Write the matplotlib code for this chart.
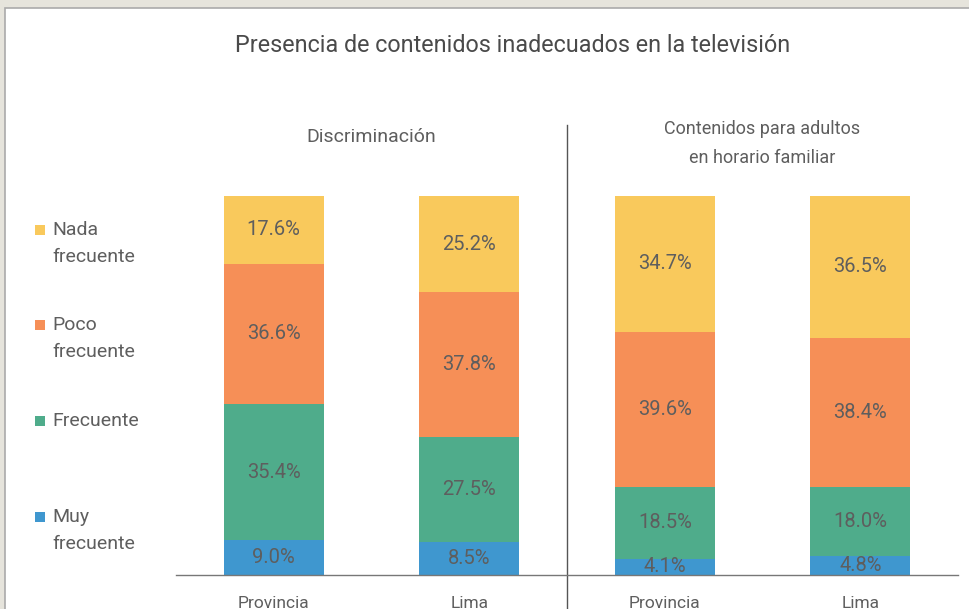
import numpy as np
import matplotlib.pyplot as plt
from matplotlib.patches import Rectangle

# Data (percentages as printed on the chart)
groups = ["Discriminación", "Contenidos para adultos\nen horario familiar"]
categories = ["Provincia", "Lima", "Provincia", "Lima"]
series = ["Muy\nfrecuente", "Frecuente", "Poco\nfrecuente", "Nada\nfrecuente"]
muy_frecuente = [9.0, 8.5, 4.1, 4.8]
frecuente = [35.4, 27.5, 18.5, 18.0]
poco_frecuente = [36.6, 37.8, 39.6, 38.4]
nada_frecuente = [17.6, 25.2, 34.7, 36.5]
colors = ["#3f97cf", "#4fac8b", "#f68f57", "#f9c95c"]

values = np.array([muy_frecuente, frecuente, poco_frecuente, nada_frecuente])
shares = values / values.sum(axis=0) * 100  # bars are drawn at full height

plt.rcParams['font.family'] = ['Roboto', 'DejaVu Sans']
txt = '#5e5e5e'

fig = plt.figure(figsize=(9.69, 6.09), dpi=100, facecolor='#e6e4dc')
# white card with grey border, behind everything
fig.patches.append(Rectangle((5 / 969, -0.01), 1.0, (609 - 8) / 609 + 0.01,
                             transform=fig.transFigure, facecolor='white',
                             edgecolor='#aaaaaa', linewidth=1.2, zorder=-5))

ax = fig.add_axes([176 / 969, 34 / 609, 782 / 969, 379 / 609])
ax.set_facecolor('none')
x = np.arange(len(categories))
bottom = np.zeros(len(categories))
for i in range(len(series)):
    ax.bar(x, shares[i], width=0.51, bottom=bottom, color=colors[i], linewidth=0)
    for j in range(len(categories)):
        ax.text(x[j], bottom[j] + shares[i][j] / 2, f"{values[i][j]:.1f}%",
                ha='center', va='center', fontsize=14.5, color=txt)
    bottom += shares[i]

ax.set_xlim(-0.5, 3.5)
ax.set_ylim(0, 100)
ax.set_yticks([])
ax.set_xticks(x)
ax.set_xticklabels(categories, fontsize=12.5, color=txt)
ax.tick_params(axis='x', length=0, pad=15)
for s in ['top', 'right', 'left']:
    ax.spines[s].set_visible(False)
ax.spines['bottom'].set_color('#777777')
ax.spines['bottom'].set_linewidth(1.0)

# divider between the two groups
ax.plot([1.5, 1.5], [-10, 118.7], color='#555555', linewidth=1.0, clip_on=False)

# group headings
ax.text(0.5, 115.5, groups[0], ha='center', va='center', fontsize=14, color=txt)
ax.text(2.5, 113.8, groups[1], ha='center', va='center', fontsize=13,
        color=txt, linespacing=1.75)

fig.text(513 / 969, 1 - 45 / 609, "Presencia de contenidos inadecuados en la televisión",
         ha='center', va='center', fontsize=16.8, color='#4a4a4a')

# legend (top to bottom: Nada, Poco, Frecuente, Muy)
legend_y = [230, 325, 421, 517]
for k, yy in enumerate(legend_y):
    i = len(series) - 1 - k
    fig.patches.append(Rectangle((35 / 969, 1 - (yy + 5) / 609), 10 / 969, 10 / 609,
                                 transform=fig.transFigure, facecolor=colors[i],
                                 edgecolor='none'))
    fig.text(52 / 969, 1 - (yy - 9) / 609, series[i], ha='left', va='top',
             fontsize=14, color=txt, linespacing=1.65)

fig.savefig('out.png', dpi=100, facecolor=fig.get_facecolor())
